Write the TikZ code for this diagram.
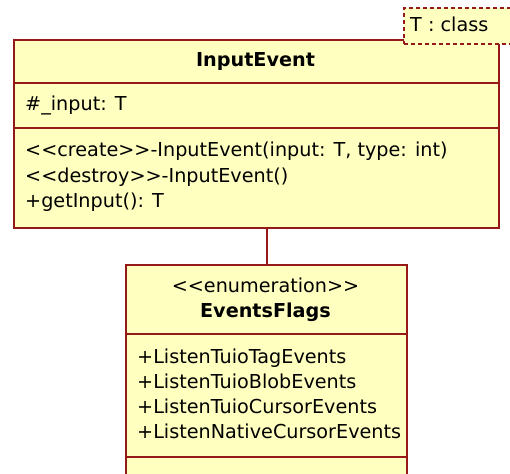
\documentclass[tikz,border=0pt]{standalone}
\usepackage{fontspec}
\setmainfont{DejaVu Sans}
\definecolor{umlfill}{RGB}{255,255,192}
\definecolor{umlline}{RGB}{150,25,25}
\tikzset{
  umlbox/.style={draw=umlline, fill=umlfill, line width=2pt, rectangle, inner sep=0pt, anchor=north west},
  sepline/.style={draw=umlline, line width=2pt},
  tplbox/.style={draw=umlline, fill=umlfill, line width=1.8pt, dash pattern=on 4pt off 3pt, rectangle, inner sep=0pt, anchor=north west},
  txt/.style={inner sep=0pt, anchor=west, text=black, font=\fontsize{19.2}{25}\selectfont, text height=14pt, text depth=4pt},
  btxt/.style={txt, anchor=center, font=\fontsize{19.2}{25}\selectfont\bfseries},
  ctxt/.style={txt, anchor=center},
  conn/.style={draw=umlline, line width=2pt}
}
\begin{document}
\begin{tikzpicture}[x=1pt, y=-1pt]
\useasboundingbox (0,0) rectangle (510,473);
\clip (0,0) rectangle (510,473);
% InputEvent class
\node[umlbox, minimum width=485pt, minimum height=188pt] (ie) at (13,39) {};
\coordinate (ies1) at (13,83);
\coordinate (ies2) at (13,128);
\draw[sepline] (ies1) -- (ies1 -| ie.east);
\draw[sepline] (ies2) -- (ies2 -| ie.east);
\node[btxt] (iename) at (255.5,62) {InputEvent};
\node[txt] (ieattr) at (25,106) {\#\_input: T};
\node[txt] (ieop1) at (25,152) {<{}<create>{}>-InputEvent(input: T, type: int)};
\node[txt] (ieop2) at (25,177) {<{}<destroy>{}>-InputEvent()};
\node[txt] (ieop3) at (25,202) {+getInput(): T};
% template parameter box
\node[tplbox, minimum width=109pt, minimum height=36pt] (tpl) at (403,7) {};
\node[txt] (tpltxt) at (410,27) {T : class};
% EventsFlags enumeration
\node[umlbox, minimum width=281pt, minimum height=240pt] (ef) at (125,264) {};
\coordinate (efs1) at (125,334);
\coordinate (efs2) at (125,457);
\draw[sepline] (efs1) -- (efs1 -| ef.east);
\draw[sepline] (efs2) -- (efs2 -| ef.east);
\node[ctxt] (efstereo) at (265.5,287) {<{}<enumeration>{}>};
\node[btxt] (efname) at (265.5,312) {EventsFlags};
\node[txt] (eflit1) at (137,358) {+ListenTuioTagEvents};
\node[txt] (eflit2) at (137,383) {+ListenTuioBlobEvents};
\node[txt] (eflit3) at (137,408) {+ListenTuioCursorEvents};
\node[txt] (eflit4) at (137,433) {+ListenNativeCursorEvents};
% connector
\draw[conn] (ef.north |- ie.south) -- (ef.north);
\end{tikzpicture}
\end{document}
